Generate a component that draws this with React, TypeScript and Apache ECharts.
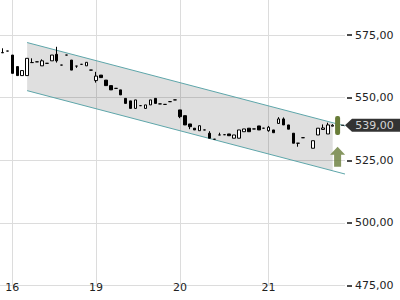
import React, { useEffect, useRef } from 'react';
import * as echarts from 'echarts';

// category slots (intraday bars) on the x axis
const slotCount = 70;
const dayLabels = ['16', '19', '20', '21'];
const dayIndex = [2, 19, 36, 54];

// price axis
const priceMin = 475;
const priceMax = 600;
const priceStep = 25;
const priceLabelMax = 575;

// candles: [open, close, low, high]
const candles: (number | string)[][] = [
  [567.9, 568.0, 567.9, 569.7],
  [568.6, 568.6, 568.6, 568.6],
  [567.0, 559.7, 559.7, 567.0],
  [562.4, 558.8, 558.8, 562.4],
  [558.8, 560.8, 558.8, 560.8],
  [558.8, 565.7, 558.8, 565.7],
  [564.0, 564.0, 564.0, 565.7],
  [564.3, 564.3, 564.3, 564.3],
  [562.7, 564.7, 562.7, 565.3],
  [563.7, 563.7, 563.7, 563.7],
  [564.7, 567.0, 564.7, 567.0],
  [567.3, 564.7, 564.0, 570.3],
  [563.0, 563.0, 563.0, 563.0],
  [567.0, 567.0, 567.0, 567.0],
  [565.0, 561.0, 561.0, 565.0],
  [562.6, 562.6, 561.9, 562.6],
  [563.3, 563.3, 563.3, 563.3],
  [562.7, 564.1, 562.7, 564.1],
  [561.0, 561.0, 561.0, 561.0],
  [556.8, 558.6, 556.0, 560.3],
  [559.0, 558.0, 558.0, 559.0],
  [557.0, 554.8, 554.8, 557.0],
  [554.8, 553.1, 553.1, 554.8],
  [553.7, 553.7, 553.7, 553.7],
  [553.1, 551.1, 551.1, 553.1],
  [549.7, 547.7, 547.7, 549.7],
  [548.7, 545.7, 545.7, 548.7],
  [545.7, 549.1, 545.7, 549.1],
  [546.8, 546.8, 546.8, 546.8],
  [545.7, 547.1, 545.7, 547.1],
  [547.1, 549.1, 547.1, 549.1],
  [549.7, 547.7, 547.7, 549.7],
  [547.5, 547.5, 547.5, 547.5],
  [547.3, 547.3, 547.3, 547.3],
  [548.4, 548.4, 548.4, 548.4],
  [549.1, 549.1, 549.1, 549.1],
  [545.1, 542.4, 541.8, 545.1],
  [542.8, 539.1, 539.1, 542.8],
  [539.5, 538.4, 537.4, 539.5],
  [537.8, 537.1, 537.1, 537.8],
  [536.8, 538.8, 536.8, 538.8],
  [537.1, 537.1, 537.1, 537.1],
  [535.8, 533.8, 533.8, 536.6],
  [533.4, 533.4, 533.4, 533.4],
  [535.1, 535.1, 535.1, 536.0],
  [535.2, 535.2, 535.2, 535.2],
  [535.5, 534.8, 534.8, 535.5],
  [533.8, 535.1, 533.8, 535.1],
  [533.8, 537.1, 533.8, 537.1],
  [536.4, 537.5, 536.4, 537.5],
  [537.8, 536.4, 536.4, 537.8],
  [537.5, 537.5, 537.5, 537.5],
  [538.7, 537.1, 537.1, 538.7],
  [537.8, 537.8, 537.8, 537.8],
  [536.8, 538.2, 536.4, 538.7],
  [537.1, 536.0, 536.0, 537.1],
  [539.7, 541.5, 539.7, 542.2],
  [541.5, 539.1, 539.1, 542.1],
  [539.1, 537.4, 537.4, 539.1],
  [535.8, 531.8, 531.8, 535.8],
  [531.8, 531.8, 530.4, 531.8],
  [534.0, 534.0, 534.0, 534.0],
  ['-', '-', '-', '-'],
  [529.8, 532.8, 529.8, 532.8],
  [535.1, 537.8, 535.1, 537.8],
  [537.3, 537.9, 537.1, 539.3],
  [535.5, 539.1, 535.5, 540.0],
  [538.6, 539.0, 538.6, 539.4],
];

// trend channel: [slot, price]
const channelUpper = [[5, 572.0], [69.5, 538.7]];
const channelLower = [[5, 552.8], [69.5, 519.5]];
const channelShade = [[5, 572.0], [67, 540.0], [67, 520.8], [5, 552.8]];

// last price and signal
const lastPrice = 539;
const lastPriceLabel = '539,00';
const signalSlot = 68;
const signalRange = [535.1, 542.7];
const arrowPrice = 526.4;

const categories = Array.from({ length: slotCount }, (_, i) => String(i));
const fmt = (v: number) => v.toFixed(2).replace('.', ',');
const FONT = 'DejaVu Sans';
const GREEN = '#687c38';

export default function App() {
  const ref = useRef<HTMLDivElement>(null);
  useEffect(() => {
    if (!ref.current) return;
    const chart = echarts.init(ref.current, undefined, { renderer: 'svg' });
    const isDay = (i: number) => dayIndex.includes(i);
    const xEdge = slotCount - 0.5;
    chart.setOption({
      animation: false,
      backgroundColor: '#fff',
      textStyle: { fontFamily: FONT },
      grid: { left: 0, right: 55, top: -27.6, bottom: 14.5, containLabel: false, outerBoundsMode: 'none' },
      xAxis: [
        {
          type: 'category',
          data: categories,
          boundaryGap: true,
          axisLine: { show: false, onZero: false },
          axisTick: { show: false },
          splitLine: { show: false },
          axisLabel: {
            interval: (i: number) => isDay(i),
            formatter: (_v: string, i: number) => dayLabels[dayIndex.indexOf(i)] ?? '',
            color: '#222',
            fontSize: 11,
            fontFamily: FONT,
            margin: -4,
            lineHeight: 11,
          },
        },
        {
          type: 'value',
          min: -0.5,
          max: xEdge,
          show: false,
          axisLine: { onZero: false },
        },
        {
          type: 'category',
          data: categories,
          boundaryGap: true,
          offset: 8,
          axisLine: { show: false, onZero: false },
          axisLabel: { show: false },
          splitLine: { show: false },
          axisTick: {
            show: true,
            alignWithLabel: true,
            interval: (i: number) => isDay(i),
            length: 4,
            lineStyle: { color: '#333' },
          },
        },
      ],
      yAxis: {
        type: 'value',
        position: 'right',
        min: priceMin,
        max: priceMax,
        interval: priceStep,
        offset: 2,
        axisLine: { show: false, onZero: false },
        axisTick: { show: true, length: 5, lineStyle: { color: '#111', width: 1.5 } },
        axisLabel: {
          color: '#222',
          fontSize: 11,
          fontFamily: FONT,
          margin: 8,
          formatter: (v: number) => (v <= priceLabelMax ? fmt(v) : ''),
        },
        splitLine: { show: true, lineStyle: { color: '#dcdcdc', width: 1 } },
      },
      series: [
        {
          type: 'custom',
          xAxisIndex: 1,
          z: 1,
          silent: true,
          data: [0],
          renderItem: (_p: any, api: any) => ({
            type: 'polygon',
            shape: { points: channelShade.map((pt) => api.coord(pt)) },
            style: { fill: 'rgba(0,0,0,0.125)' },
          }),
        },
        {
          type: 'line',
          xAxisIndex: 1,
          z: 2,
          data: channelUpper,
          symbol: 'none',
          lineStyle: { color: '#5ea6aa', width: 1 },
          markLine: {
            silent: true,
            z: 1,
            symbol: ['none', 'none'],
            label: { show: false },
            lineStyle: { color: '#dcdcdc', width: 1, type: 'solid' },
            data: dayIndex.map((i) => ({ xAxis: i })),
          },
        },
        {
          type: 'line',
          xAxisIndex: 1,
          z: 2,
          data: channelLower,
          symbol: 'none',
          lineStyle: { color: '#5ea6aa', width: 1 },
        },
        {
          type: 'candlestick',
          xAxisIndex: 0,
          z: 3,
          barWidth: 3,
          data: candles,
          itemStyle: {
            color: '#fff',
            color0: '#000',
            borderColor: '#000',
            borderColor0: '#000',
            borderColorDoji: '#000',
            borderWidth: 1,
          },
        },
        {
          type: 'line',
          xAxisIndex: 1,
          z: 4,
          data: [[67.5, lastPrice], [xEdge, lastPrice]],
          symbol: 'none',
          lineStyle: { color: '#000', width: 1, type: [3, 3] },
        },
        {
          type: 'custom',
          xAxisIndex: 1,
          z: 5,
          data: [[signalSlot, signalRange[0], signalRange[1]]],
          renderItem: (_p: any, api: any) => {
            const top = api.coord([api.value(0), api.value(2)]);
            const bot = api.coord([api.value(0), api.value(1)]);
            return {
              type: 'rect',
              shape: { x: top[0] - 2.5, y: top[1], width: 5, height: bot[1] - top[1], r: 2 },
              style: { fill: GREEN },
            };
          },
        },
        {
          type: 'scatter',
          xAxisIndex: 1,
          z: 5,
          clip: false,
          data: [[signalSlot, arrowPrice]],
          symbol: 'path://M7.5,0 L15,8 L11,8 L11,20 L4,20 L4,8 L0,8 Z',
          symbolSize: [15, 20],
          itemStyle: { color: GREEN },
        },
        {
          type: 'scatter',
          xAxisIndex: 1,
          z: 6,
          clip: false,
          data: [[xEdge, lastPrice]],
          symbol: 'path://M0,6.5 L7,0 L55,0 L55,13 L7,13 Z',
          symbolSize: [55, 13],
          symbolOffset: [27.5, 0],
          itemStyle: { color: '#000' },
          label: {
            show: true,
            position: 'inside',
            formatter: lastPriceLabel,
            color: '#fff',
            fontSize: 11,
            fontFamily: FONT,
            offset: [2, 0],
          },
        },
      ],
    });
    return () => chart.dispose();
  }, []);
  return (
    <div
      ref={ref}
      style={{ position: 'fixed', left: 0, top: 0, width: 400, height: 300 }}
    />
  );
}
